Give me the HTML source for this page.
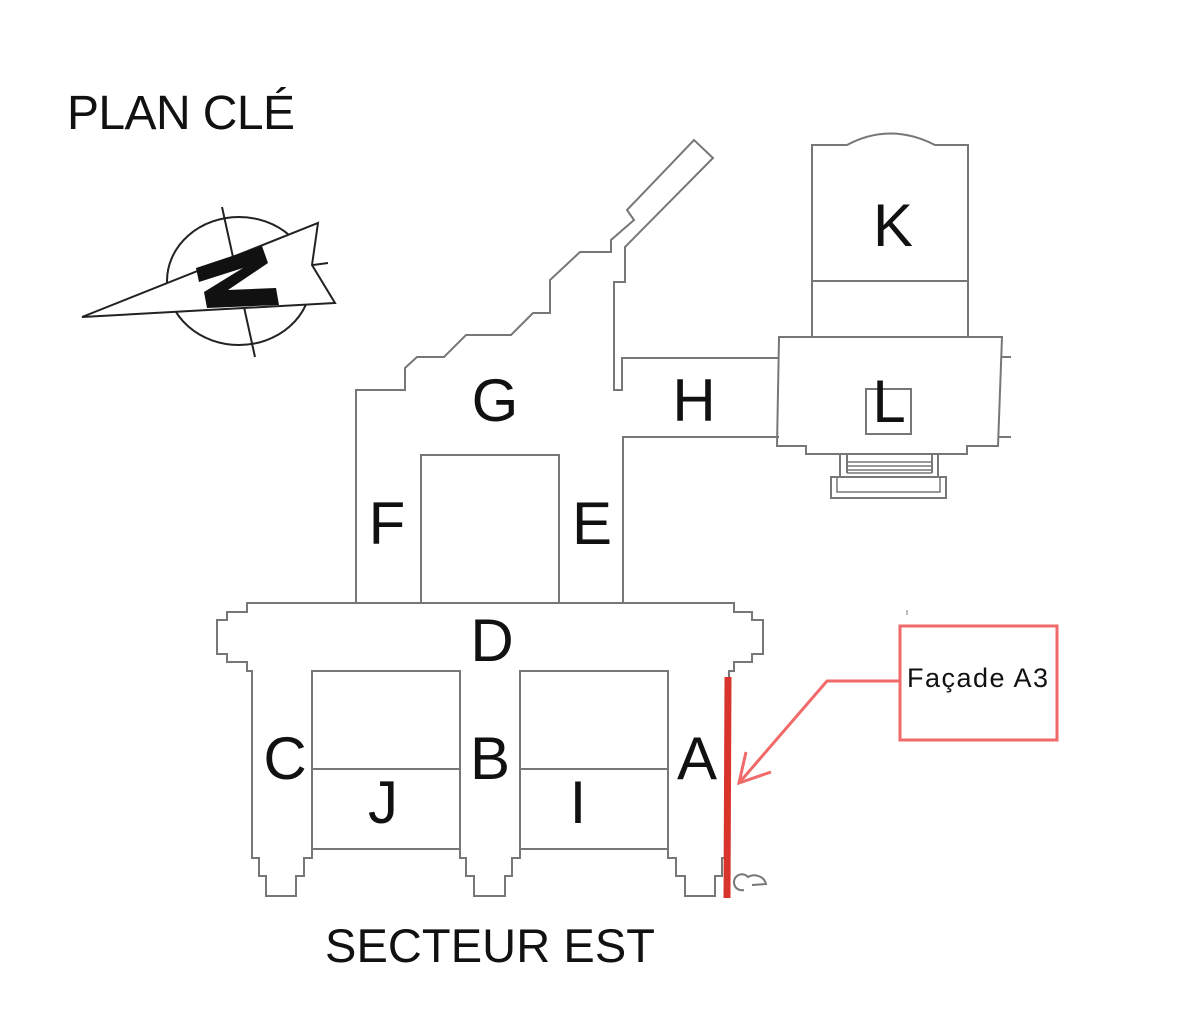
<!DOCTYPE html>
<html><head><meta charset="utf-8"><style>
html,body{margin:0;padding:0;background:#fff;}
svg{display:block;}
text{font-family:"Liberation Sans",Arial,sans-serif;fill:#111;}
</style></head><body>
<svg width="1200" height="1022" viewBox="0 0 1200 1022" xmlns="http://www.w3.org/2000/svg">
<rect width="1200" height="1022" fill="#fff"/>
<text x="67" y="129" font-size="48" textLength="228">PLAN CLÉ</text>
<text x="325" y="962" font-size="47" textLength="330">SECTEUR EST</text>

<g stroke="#222" stroke-width="2" fill="none">
<ellipse cx="239" cy="281" rx="72" ry="64"/>
<line x1="222" y1="207" x2="255" y2="357"/>
<polygon points="82,317 318,223 312,265 335,303" fill="#fff"/>
<line x1="313" y1="265" x2="328" y2="263"/>
</g>
<polygon points="196,268 262,246 268,263 228,290 276,288 279,305 207,308 204,292 243,268 199,282" fill="#111"/>

<g stroke="#777" stroke-width="2" fill="none">
<polyline points="356,603 356,390 405,390 405,368 417,357 444,357 466,335 511,335 533,313 550,313 550,280 580,252 611,252 611,240 634,220 627,210 694,140 713,158 625,247 625,282 614,282 614,390 622,390 622,358 779,358"/>
<polyline points="779,437 623,437 623,603"/>
<polyline points="421,603 421,455 559,455 559,603"/>
<path d="M812,337 L812,145 L847,145 Q890,122 935,145 L968,145 L968,337"/>
<line x1="812" y1="281" x2="968" y2="281"/>
<polygon points="779,337 1002,337 998,446 967,446 967,454 806,454 806,446 777,446"/>
<line x1="1002" y1="357" x2="1011" y2="357"/>
<line x1="999" y1="437" x2="1011" y2="437"/>
<rect x="866" y="389" width="45" height="45"/>
<line x1="840" y1="454" x2="840" y2="477"/><line x1="847" y1="454" x2="847" y2="473"/>
<line x1="938" y1="454" x2="938" y2="477"/><line x1="932" y1="454" x2="932" y2="473"/>
<line x1="847" y1="462" x2="932" y2="462" stroke-width="1.5"/><line x1="847" y1="466" x2="932" y2="466" stroke-width="1.5"/>
<line x1="847" y1="470" x2="932" y2="470" stroke-width="1.5"/><line x1="847" y1="473" x2="932" y2="473" stroke-width="1.5"/>
<rect x="831" y="477" width="115" height="21"/>
<polyline points="837,477 837,492 940,492 940,477" stroke-width="1.5"/>
<polygon points="247,603 734,603 734,612 752,612 752,620 763,620 763,654 752,654 752,662 734,662 734,671 729,671 729,858 722,858 722,876 715,876 715,896 685,896 685,876 676,876 676,858 668,858 668,849 520,849 520,858 512,858 512,876 505,876 505,896 474,896 474,876 466,876 466,858 460,858 460,849 312,849 312,858 304,858 304,876 296,876 296,896 266,896 266,876 259,876 259,858 252,858 252,671 247,671 247,662 227,662 227,654 217,654 217,620 227,620 227,612 247,612"/>
<rect x="312" y="671" width="148" height="178"/>
<line x1="312" y1="769" x2="460" y2="769"/>
<rect x="520" y="671" width="148" height="178"/>
<line x1="520" y1="769" x2="668" y2="769"/>
<path d="M744,890 A8,8 0 1 1 748,877 A12,11 0 0 1 766,884 L752,885"/>
</g>
<line x1="907" y1="610" x2="907" y2="615" stroke="#777" stroke-width="1"/>

<g font-size="60" text-anchor="middle">
<text x="495" y="421">G</text>
<text x="694" y="421">H</text>
<text x="387" y="544">F</text>
<text x="592" y="544">E</text>
<text x="893" y="246">K</text>
<text x="889" y="422">L</text>
<text x="492" y="661">D</text>
<text x="285" y="779">C</text>
<text x="490" y="779">B</text>
<text x="697" y="779">A</text>
<text x="383" y="823">J</text>
<text x="578" y="823">I</text>
</g>

<line x1="728" y1="677" x2="727" y2="898" stroke="#d9342b" stroke-width="7"/>
<g stroke="#f06a6a" stroke-width="3" fill="none">
<polyline points="899,681 827,681 739,783"/>
<polyline points="746,752 739,783 771,772"/>
<rect x="900" y="626" width="157" height="114"/>
</g>
<text x="907" y="687" font-size="27" textLength="141">Façade A3</text>
</svg>
</body></html>
